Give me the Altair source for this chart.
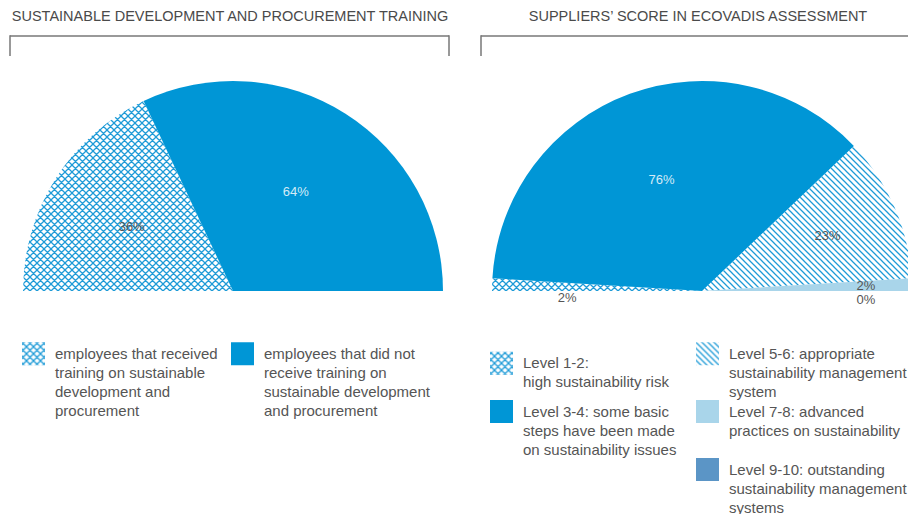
import math
import altair as alt
import pandas as pd
import jinja2

# ---------------- data ----------------
train_categories = [
    "employees that received\ntraining on sustainable\ndevelopment and\nprocurement",
    "employees that did not\nreceive training on\nsustainable development\nand procurement",
]
train_values = [36, 64]
train_labels = ["36%", "64%"]

score_categories = [
    "Level 1-2:\nhigh sustainability risk",
    "Level 3-4: some basic\nsteps have been made\non sustainability issues",
    "Level 5-6: appropriate\nsustainability management\nsystem",
    "Level 7-8: advanced\npractices on sustainability",
    "Level 9-10: outstanding\nsustainability management\nsystems",
]
score_values = [2, 76, 23, 2, 0]
score_labels = ["2%", "76%", "23%", "2%", "0%"]

titles = ["SUSTAINABLE DEVELOPMENT AND PROCUREMENT TRAINING",
          "SUPPLIERS\u2019 SCORE IN ECOVADIS ASSESSMENT"]

# ---------------- style ----------------
BLUE = "#0096d6"
LIGHT = "#a9d5ea"
STEEL = "#5b95c6"
XHATCH = "url(#xhatch)"
DHATCH = "url(#dhatch)"
TEXT = "#555555"
FONT = "Liberation Sans, Arial, sans-serif"
R = 210
PANEL_H = 300
CY = 257

train_fills = [XHATCH, BLUE]
score_fills = [XHATCH, BLUE, DHATCH, LIGHT, STEEL]

train_df = pd.DataFrame({"cat": train_categories, "value": train_values,
                         "label": train_labels, "idx": range(len(train_values))})
score_df = pd.DataFrame({"cat": score_categories, "value": score_values,
                         "label": score_labels, "idx": range(len(score_values))})


def theta_enc(total):
    return alt.Theta("value:Q", stack=True,
                     scale=alt.Scale(domain=[0, total], range=[1.5 * math.pi, 2.5 * math.pi],
                                     nice=False, zero=True))


def label_layer(df, total, cx, show_idx, radius, color, dy=0):
    cond = " || ".join(f"datum.idx == {i}" for i in show_idx)
    return alt.Chart(df).transform_calculate(
        t=f"({cond}) ? datum.label : ''"
    ).mark_text(font=FONT, fontSize=13, color=color, dy=dy).encode(
        theta=theta_enc(total),
        order=alt.Order("idx:Q"),
        radius=alt.value(radius),
        x=alt.value(cx), y=alt.value(CY),
        text="t:N",
    )


def bracket(x0, x1, right_side=True):
    one = pd.DataFrame({"k": [0]})
    base = alt.Chart(one).mark_rule(color="#777777", strokeWidth=1.5)
    parts = [base.encode(x=alt.value(x0), x2=alt.value(x1), y=alt.value(2)),
             base.encode(x=alt.value(x0), y=alt.value(1.3), y2=alt.value(22))]
    if right_side:
        parts.append(base.encode(x=alt.value(x1), y=alt.value(1.3), y2=alt.value(22)))
    return parts


def panel(df, domain, fills, cx, width, title, title_dx, labels, legend, bx):
    total = float(df["value"].sum())
    arcs = alt.Chart(df).mark_arc(strokeWidth=0).encode(
        theta=theta_enc(total),
        order=alt.Order("idx:Q"),
        radius=alt.value(R),
        x=alt.value(cx), y=alt.value(CY),
        fill=alt.Fill("cat:N", scale=alt.Scale(domain=domain, range=fills), legend=legend),
    )
    layers = [arcs] + [label_layer(df, total, cx, *spec) for spec in labels] + bracket(*bx)
    return alt.layer(*layers).properties(
        width=width, height=PANEL_H,
        title=alt.TitleParams(title, font=FONT, fontSize=14.5, fontWeight="normal",
                              color="#4a4a4a", anchor="middle", offset=10, dx=title_dx),
    )


def make_legend(x, y, colpad):
    return alt.Legend(
        title=None, orient="none", legendX=x, legendY=y, columns=2,
        symbolType="square", symbolSize=529, symbolStrokeWidth=0, symbolOpacity=1,
        labelExpr="split(datum.label, '\\n')", labelFont=FONT, labelFontSize=15,
        labelColor=TEXT, labelLimit=400, labelOffset=10, labelBaseline="middle",
        columnPadding=colpad, rowPadding=-6, padding=0,
    )


left = panel(
    train_df, train_categories, train_fills, 225, 444, titles[0], 0,
    labels=[([1], 117, "#d4ebf7"), ([0], 120, TEXT)],
    legend=make_legend(14, 308, 13),
    bx=(2, 441),
)

# legend grid is filled column by column: column 1 = levels 1-2 / 3-4 (+ empty cell),
# column 2 = levels 5-6 / 7-8 / 9-10
legend_order = [0, 1, None, 2, 3, 4]
score_domain = [score_categories[i] if i is not None else " " for i in legend_order]
score_range = [score_fills[i] if i is not None else "#ffffff" for i in legend_order]

right = panel(
    score_df, score_domain, score_range, 224, 434, titles[1], 3,
    labels=[([1], 118, "#d4ebf7"), ([2], 137, TEXT), ([0], 135, TEXT, 11),
            ([3], 164, TEXT), ([4], 164, TEXT, 9)],
    legend=make_legend(12, 308, 19),
    bx=(3, 434, False),
)

chart = alt.hconcat(left, right, spacing=26).resolve_scale(
    fill="independent", theta="independent"
).configure(
    padding=0, background="white",
    style={"guide-label": {"lineHeight": 19}},
).configure_view(stroke=None)

# ---------------- hatch patterns (SVG defs injected into the page) ----------------
EXTRA = """
<style>
  html { overflow: hidden; }
  #vis, #vis.vega-embed { display: block !important; width: max-content !important;
                          overflow: visible !important; }
  #vis * { flex-shrink: 0 !important; overflow: visible !important; max-width: none !important; }
</style>
<svg width="0" height="0" style="position:absolute">
  <defs>
    <pattern id="xhatch" patternUnits="userSpaceOnUse" width="7" height="7">
      <path d="M0,0 L7,7 M-1,6 L1,8 M6,-1 L8,1 M0,7 L7,0 M-1,1 L1,-1 M6,8 L8,6"
            stroke="#1f9bd7" stroke-width="1.3" fill="none"/>
    </pattern>
    <pattern id="dhatch" patternUnits="userSpaceOnUse" width="6" height="6">
      <path d="M0,0 L6,6 M-1,5 L1,7 M5,-1 L7,1" stroke="#1f9bd7" stroke-width="1.3" fill="none"/>
    </pattern>
  </defs>
</svg>
"""

try:
    from altair.utils.html import TEMPLATES
    _BASE = TEMPLATES["standard"]

    class PatternTemplate(jinja2.Template):
        def render(self, *args, **kwargs):
            html = _BASE.render(*args, **kwargs)
            if "<body>" in html:
                return html.replace("<body>", "<body>" + EXTRA, 1)
            return EXTRA + html

    save_kwargs = {"template": PatternTemplate("")}
except Exception:
    save_kwargs = {}

chart.save("out.html", embed_options={"renderer": "svg", "actions": False}, **save_kwargs)
